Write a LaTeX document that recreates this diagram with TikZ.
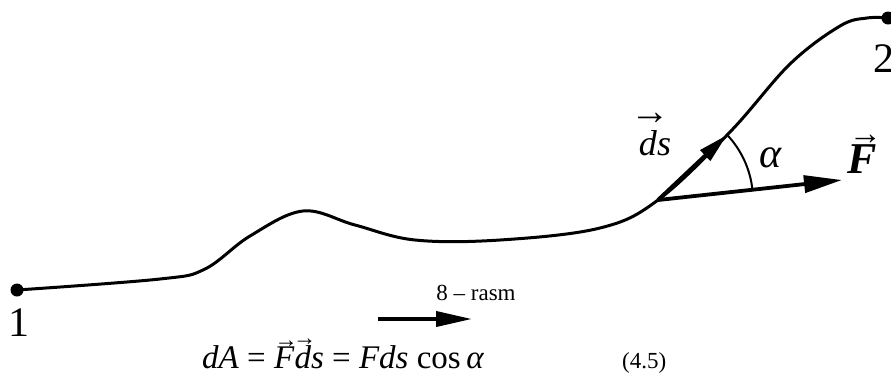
\documentclass[tikz,border=0pt]{standalone}
\usepackage{fontspec}
\setmainfont{Liberation Serif}
\usetikzlibrary{arrows.meta}
% \ovec[shift]{scale}{raise}{letter}: arrow over a letter, width of the letter kept
\newcommand{\ovec}[4][0.12em]{\leavevmode\setbox0\hbox{#4}%
  \rlap{\hbox to \wd0{\hss\hskip#1\raisebox{\dimexpr\ht0+#3\relax}{\scalebox{#2}{→}}\hss}}\box0}
\begin{document}
\begin{tikzpicture}[x=1pt,y=-1pt,
  curve/.style={line width=3pt, line cap=round},
  vecline/.style={line width=3.8pt},
  dot/.style={circle, fill, inner sep=0pt, minimum size=13pt},
  lbl/.style={inner sep=0pt, anchor=base},
  big/.style={font=\fontsize{42}{42}\selectfont},
  mid/.style={font=\fontsize{36}{36}\selectfont},
  small/.style={font=\fontsize{23}{23}\selectfont}
]
\useasboundingbox (0,0) rectangle (891,373);

% end points
\node[dot] (p1) at (17,290) {};
\node[dot] (p2) at (888,18) {};
\coordinate (o) at (658,200);
\coordinate (dstip) at (727,135);
\coordinate (Ftip) at (842,180);

% path
\draw[curve] plot[smooth, tension=0.6] coordinates {
  (p1.center) (160,279) (205,269) (250,236) (303,211)
  (355,225) (415,240) (500,240) (600,228) (o) (730,132) (790,64)
  (840,26) (867,18) (p2.center)};

% vectors
\draw[vecline, -{Triangle[length=30pt,width=14pt]}] (o) -- (dstip);
\draw[vecline, -{Triangle[length=38pt,width=17pt]}] (o) -- (Ftip);
\draw[line width=2pt] (o) ++(-6.2:95) arc[start angle=-6.2, end angle=-43.4, radius=95];

% labels
\node[lbl, big] (n1) at (19,336) {1};
\node[lbl, big] (n2) at (884,72) {2};
\node[lbl, mid] (lds) at (655,155) {\ovec[0.1em]{1.1}{0.15em}{\textit{d}}\textit{s}};
\node[lbl, big] (lal) at (771,167) {\textit{α}};
\node[lbl, font=\fontsize{44}{44}\selectfont] (lF) at (862,173) {\ovec[0.15em]{0.75}{0em}{\textbf{\textit{F}}}};

% figure caption arrow
\node[lbl, small] (cap) at (476,300) {8 – rasm};
\coordinate (a1) at (378,319);
\coordinate (a2) at (472,319);
\draw[vecline, -{Triangle[length=36pt,width=15pt]}] (a1) -- (a2);

% formula
\node[anchor=base west, inner sep=0pt, font=\fontsize{33}{33}\selectfont] (eq) at (202,368)
  {\textit{dA} = \ovec{0.7}{-0.02em}{\textit{F}}\ovec{0.7}{-0.02em}{\textit{d}}\textit{s} = \textit{Fds} cos\,\textit{α}};
\node[anchor=base west, inner sep=0pt, small] (num) at (622,368) {(4.5)};
\end{tikzpicture}
\end{document}
